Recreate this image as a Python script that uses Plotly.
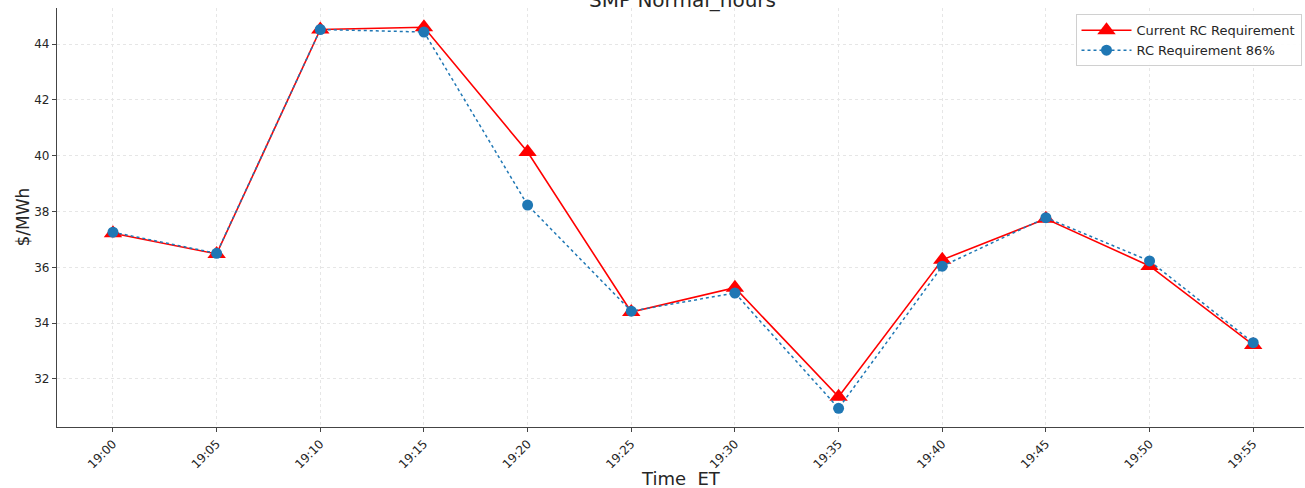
import plotly.graph_objects as go

times = ["19:00", "19:05", "19:10", "19:15", "19:20", "19:25",
         "19:30", "19:35", "19:40", "19:45", "19:50", "19:55"]
current_rc = [37.22, 36.48, 44.52, 44.60, 40.13, 34.40,
              35.27, 31.36, 36.27, 37.74, 36.05, 33.22]
rc_86 = [37.26, 36.50, 44.52, 44.43, 38.23, 34.43,
         35.08, 30.95, 36.04, 37.78, 36.23, 33.30]

font_family = "DejaVu Sans"

fig = go.Figure()
fig.add_trace(go.Scatter(
    x=times, y=current_rc, name="Current RC Requirement",
    mode="lines+markers",
    line=dict(color="red", width=1.6),
    marker=dict(symbol="triangle-up", size=16, color="red"),
))
fig.add_trace(go.Scatter(
    x=times, y=rc_86, name="RC Requirement 86%",
    mode="lines+markers",
    line=dict(color="#1f77b4", width=1.5, dash="dot"),
    marker=dict(symbol="circle", size=11, color="#1f77b4"),
))

fig.update_layout(
    width=1305, height=488,
    margin=dict(l=57, r=1, t=8, b=61, autoexpand=False),
    paper_bgcolor="white", plot_bgcolor="white",
    font=dict(family=font_family, color="#262626"),
    title=dict(text="SMP Normal_hours", x=0.523, xanchor="center",
               y=1.0, yanchor="middle", yref="container",
               font=dict(size=20, color="#262626")),
    legend=dict(x=0.998, y=0.985, xanchor="right", yanchor="top",
                bgcolor="rgba(255,255,255,0.9)", bordercolor="#d0d0d0",
                borderwidth=1, font=dict(size=13, color="#262626"),
                tracegroupgap=3, itemwidth=50),
    showlegend=True,
    annotations=[
        dict(text="Time  ET", xref="paper", yref="paper", x=0.5, y=0,
             xanchor="center", yanchor="middle", yshift=-51,
             showarrow=False, font=dict(size=18, color="#262626")),
        dict(text="$/MWh", xref="paper", yref="paper", x=0, y=0.5,
             xanchor="center", yanchor="middle", xshift=-35, textangle=-90,
             showarrow=False, font=dict(size=17, color="#262626")),
    ],
)
fig.update_xaxes(
    type="category", range=[-0.54, 11.49], automargin=False,
    tickangle=-45, tickfont=dict(size=12),
    showgrid=True, gridcolor="#e6e6e6", griddash="dot", gridwidth=1,
    showline=True, linecolor="#444444", linewidth=1.3,
    ticks="outside", ticklen=4, tickcolor="#444444",
    zeroline=False,
)
fig.update_yaxes(
    range=[30.28, 45.29], automargin=False,
    tickvals=[32, 34, 36, 38, 40, 42, 44], tickfont=dict(size=12),
    showgrid=True, gridcolor="#e6e6e6", griddash="dot", gridwidth=1,
    showline=True, linecolor="#444444", linewidth=1.3,
    ticks="outside", ticklen=4, tickcolor="#444444",
    zeroline=False,
)

fig.write_html("out.html",
               config={"displayModeBar": False},
               post_script="document.body.style.margin='0';document.body.style.overflow='hidden';")
